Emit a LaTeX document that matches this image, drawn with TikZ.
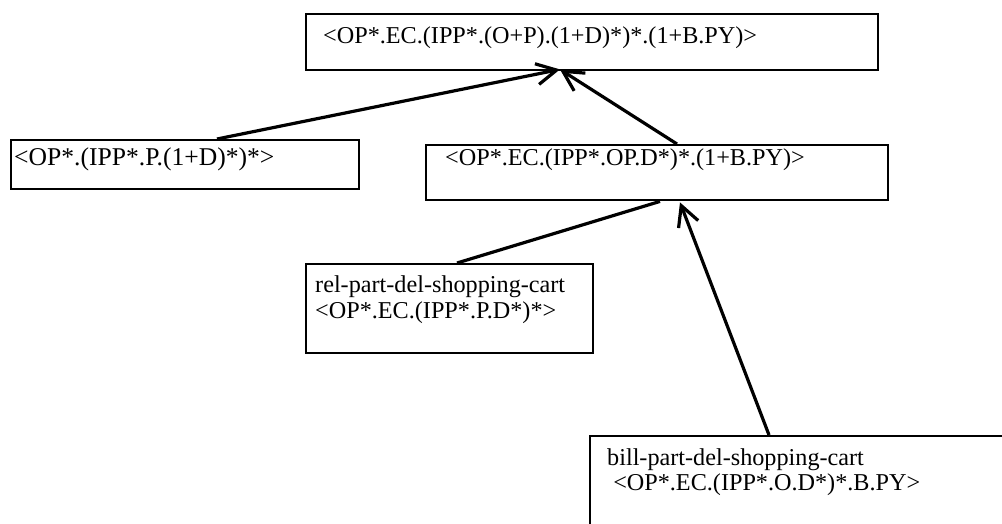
\documentclass[tikz,border=0pt]{standalone}
\usepackage{fontspec}
\setmainfont{Liberation Serif}
\usetikzlibrary{arrows.meta,calc}
\begin{document}
\begin{tikzpicture}[x=1pt,y=-1pt,
  box/.style={draw,line width=2.4pt,inner sep=0pt,anchor=north west},
  lbl/.style={anchor=base west,inner sep=0pt,font=\fontsize{24.2}{26}\selectfont},
  biglbl/.style={lbl,font=\fontsize{25.6}{28}\selectfont},
  link/.style={line width=3.2pt},
  arr/.style={link,-{Straight Barb[length=20pt,width=21pt]}}]
\clip (0,0) rectangle (1002,523);
\fill[white] (0,0) rectangle (1002,523);

% boxes
\node[box,minimum width=572pt,minimum height=56pt] (top)  at (305,13)  {};
\node[box,minimum width=348pt,minimum height=49pt] (lft)  at (10,139)  {};
\node[box,minimum width=462pt,minimum height=55pt] (mid)  at (425,144) {};
\node[box,minimum width=287pt,minimum height=89pt] (rel)  at (305,263) {};
\node[box,minimum width=600pt,minimum height=200pt] (bill) at (589,435) {};

% texts
\node[lbl]    (ttop)  at (323,43)  {<OP*.EC.(IPP*.(O+P).(1+D)*)*.(1+B.PY)>};
\node[biglbl] (tlft)  at (14,165)  {<OP*.(IPP*.P.(1+D)*)*>};
\node[lbl]    (tmid)  at (445,165) {<OP*.EC.(IPP*.OP.D*)*.(1+B.PY)>};
\node[lbl]    (trela) at (315,292) {rel-part-del-shopping-cart};
\node[lbl]    (trelb) at (315,318) {<OP*.EC.(IPP*.P.D*)*>};
\node[lbl]    (tbila) at (607,465) {bill-part-del-shopping-cart};
\node[lbl]    (tbilb) at (607,490) {\hspace*{0.25em}<OP*.EC.(IPP*.O.D*)*.B.PY>};

% connectors
\coordinate (tipA) at ($(top.south west)+(255,-2)$);
\coordinate (tipB) at ($(mid.south west)+(255,1)$);
\draw[arr] ($(lft.north west)+(207,0)$) -- (tipA);
\draw[arr] ($(mid.north west)+(252,0)$) -- (tipA);
\draw[link] ($(rel.north west)+(152,0)$) -- ($(mid.south west)+(235,0)$);
\draw[arr] ($(bill.north west)+(180,0)$) -- (tipB);
\end{tikzpicture}
\end{document}
